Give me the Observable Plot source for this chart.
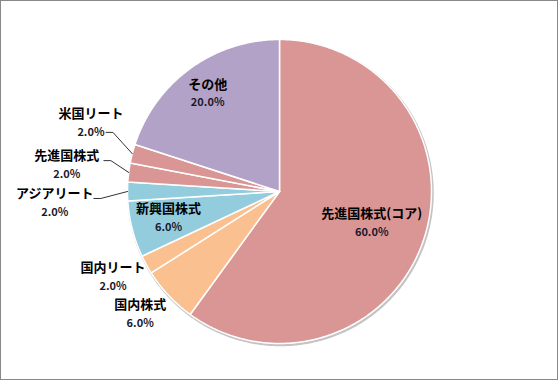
<!DOCTYPE html>
<html><head><meta charset="utf-8">
<script src="https://cdn.jsdelivr.net/npm/d3@7"></script>
<script src="https://cdn.jsdelivr.net/npm/@observablehq/plot@0.6"></script>
<style>
body{margin:0;background:#fff}
#chart{width:558px;height:380px;position:relative;overflow:hidden}
#chart svg{display:block}
#frame{position:absolute;left:0;top:0;width:558px;height:380px;box-sizing:border-box;border:1px solid #888;pointer-events:none}
</style></head><body>
<div id="chart"><div id="frame"></div></div>
<script>
// ---- data ----
const categories = ["先進国株式(コア)", "国内株式", "国内リート", "新興国株式", "アジアリート", "先進国株式", "米国リート", "その他"];
const values = [60, 6, 2, 6, 2, 2, 2, 20];
const colors = ["#D99694", "#FAC090", "#FAC090", "#93CDDD", "#93CDDD", "#D99694", "#D99694", "#B3A2C7"];

// ---- layout (label placement, in radius units / degrees / pixels) ----
const labelRadius = [0.64, 1.22, 1.23, 0.75, 1.48, 1.41, 1.32, 0.80];
const labelShift  = [0.6, 1.9, 1.7, 1.0, -2.8, 0, 5.6, -0.2];
const leaderOffset = [null, null, null, null, [39, -4], [37, -4], [15, 9.5], null];

const W = 558, H = 380, mL = 127, mR = 127, mT = 39, mB = 37;
const R = (W - mL - mR) / 2; // pixels per unit

const pie = d3.pie().sort(null).value(d => d)(values);
const slices = pie.map((p, i) => ({
  name: categories[i], value: values[i], color: colors[i],
  a0: p.startAngle, a1: p.endAngle, mid: (p.startAngle + p.endAngle) / 2
}));

const polys = [];
slices.forEach(s => {
  polys.push({name: s.name, color: s.color, x: 0, y: 0});
  const n = Math.max(2, Math.ceil((s.a1 - s.a0) / (Math.PI / 360)));
  for (let k = 0; k <= n; k++) {
    const a = s.a0 + (s.a1 - s.a0) * k / n;
    polys.push({name: s.name, color: s.color, x: Math.sin(a), y: Math.cos(a)});
  }
});
const ring = d3.range(0, 721).map(k => {
  const a = k / 720 * 2 * Math.PI;
  return {x: Math.sin(a), y: Math.cos(a)};
});

const labels = slices.map((s, i) => {
  const a = s.mid + labelShift[i] * Math.PI / 180;
  return {
    name: s.name,
    pct: d3.format(".1f")(s.value / d3.sum(values) * 100) + "%",
    x: labelRadius[i] * Math.sin(a),
    y: labelRadius[i] * Math.cos(a)
  };
});

const leaders = [];
slices.forEach((s, i) => {
  const off = leaderOffset[i];
  if (!off) return;
  const lx = labels[i].x + off[0] / R, ly = labels[i].y - off[1] / R;
  leaders.push({id: i, x: lx, y: ly});
  leaders.push({id: i, x: lx + 7 / R, y: ly});
  leaders.push({id: i, x: Math.sin(s.mid), y: Math.cos(s.mid)});
});

const font = "'Noto Sans CJK JP', 'Noto Sans', sans-serif";

const chart = Plot.plot({
  width: W, height: H,
  marginLeft: mL, marginRight: mR, marginTop: mT, marginBottom: mB,
  x: {domain: [-1, 1], axis: null},
  y: {domain: [-1, 1], axis: null},
  color: {type: "identity"},
  style: {fontFamily: font, background: "#fff", overflow: "visible"},
  marks: [
    Plot.line(ring, {x: "x", y: "y", stroke: "#c4c4c4", strokeWidth: 2.5, dx: 1, dy: 1.5, curve: "linear-closed"}),
    Plot.line(polys, {x: "x", y: "y", z: "name", fill: "color", stroke: "white", strokeWidth: 1.5, strokeLinejoin: "round", curve: "linear-closed"}),
    Plot.line(leaders, {x: "x", y: "y", z: "id", stroke: "#333", strokeWidth: 1}),
    Plot.text(labels, {x: "x", y: "y", text: "name", dy: -9, fontSize: 13, fontWeight: "bold", fill: "#000"}),
    Plot.text(labels, {x: "x", y: "y", text: "pct", dy: 9.5, fontSize: 11, fontWeight: "bold", fill: "#1a1a2e"})
  ]
});
document.getElementById("chart").prepend(chart);
</script>
</body></html>
